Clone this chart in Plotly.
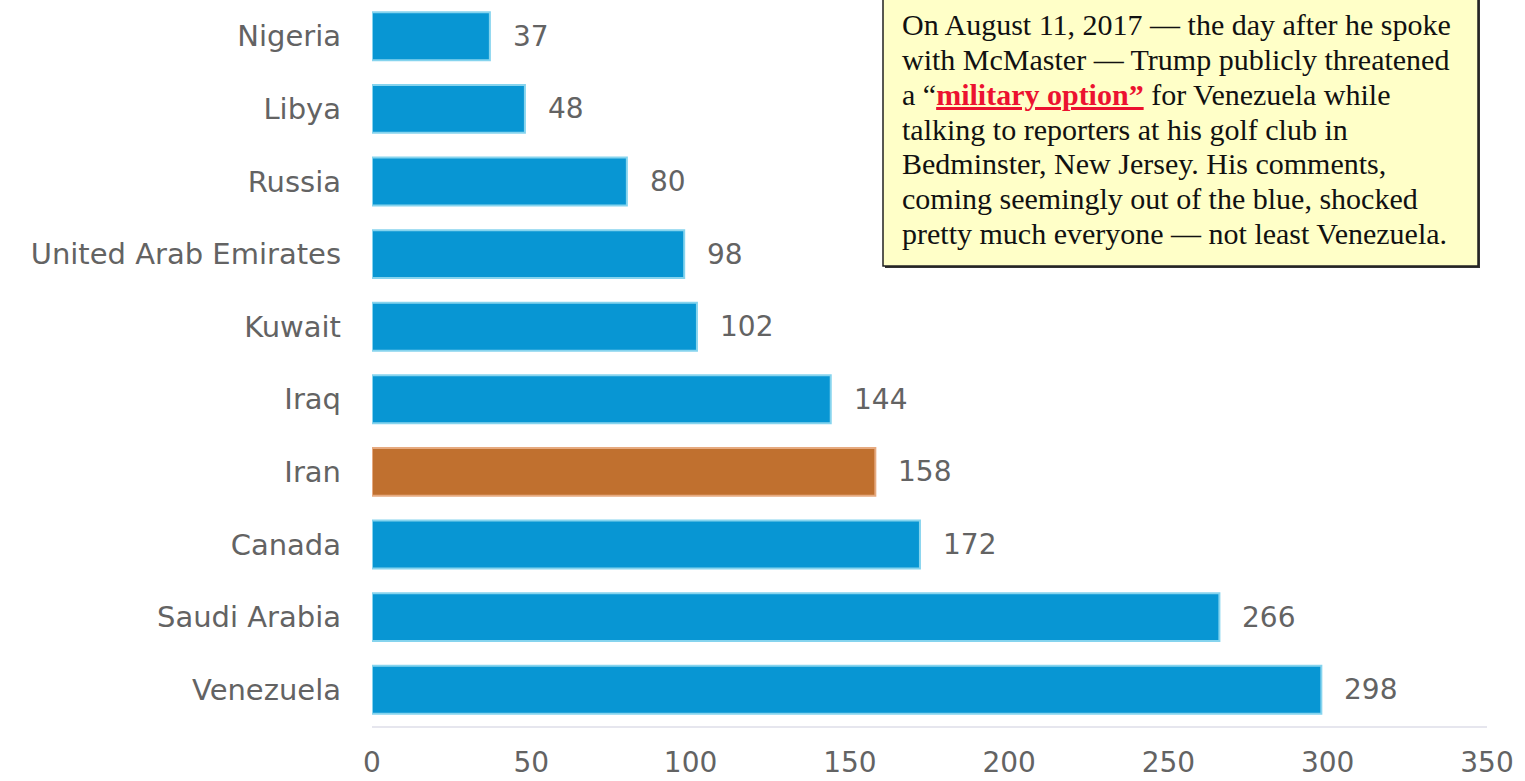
import plotly.graph_objects as go

# ---- data ----
countries = ["Nigeria", "Libya", "Russia", "United Arab Emirates", "Kuwait",
             "Iraq", "Iran", "Canada", "Saudi Arabia", "Venezuela"]
values = [37, 48, 80, 98, 102, 144, 158, 172, 266, 298]
highlight = "Iran"
x_ticks = [0, 50, 100, 150, 200, 250, 300, 350]

note_lines = [
    "On August 11, 2017 \u2014 the day after he spoke",
    "with McMaster \u2014 Trump publicly threatened",
    "a \u201c<span style=\"color:#ec1230;text-decoration:underline\"><b>military option\u201d</b></span> for Venezuela while",
    "talking to reporters at his golf club in",
    "Bedminster, New Jersey. His comments,",
    "coming seemingly out of the blue, shocked",
    "pretty much everyone \u2014 not least Venezuela.",
]

# ---- layout geometry (pixels) ----
W, H = 1525, 781
L, R, T, B = 372, 38, 0, 55
PW, PH = W - L - R, H - T - B


def px(xp):
    return (xp - L) / PW


def py(yp):
    return 1 - (yp - T) / PH


BLUE, BLUE_EDGE = "#0896d3", "#86d4ee"
ORANGE, ORANGE_EDGE = "#c0702f", "#e6aa80"
fills = [ORANGE if c == highlight else BLUE for c in countries]
edges = [ORANGE_EDGE if c == highlight else BLUE_EDGE for c in countries]

CAT_FONT = dict(family="DejaVu Sans", size=29, color="#636363")
NUM_FONT = dict(family="DejaVu Sans", size=28, color="#636363")

fig = go.Figure()
fig.add_trace(go.Bar(
    x=values, y=countries, orientation="h",
    marker=dict(color=fills, line=dict(color=edges, width=2)),
    hoverinfo="skip",
))

for c, v in zip(countries, values):
    fig.add_annotation(x=v, y=c, xref="x", yref="y", text=str(v),
                       showarrow=False, xanchor="left", xshift=21,
                       font=NUM_FONT)

# note box with drop shadow
bx0, bx1, by0, by1 = 883, 1478, -10, 266
fig.add_shape(type="rect", xref="paper", yref="paper",
              x0=px(bx0 + 2), x1=px(bx1 + 2), y0=py(by1 + 2), y1=py(by0 + 2),
              fillcolor="#333333", line=dict(width=0), layer="above")
fig.add_shape(type="rect", xref="paper", yref="paper",
              x0=px(bx0), x1=px(bx1), y0=py(by1), y1=py(by0),
              fillcolor="#ffffc8", line=dict(color="#222222", width=1.5),
              layer="above")
first_center, spacing = 25, 34.7
for i, txt in enumerate(note_lines):
    fig.add_annotation(x=px(900), y=py(first_center + i * spacing),
                       xref="paper", yref="paper",
                       text=txt, showarrow=False, xanchor="left",
                       yanchor="middle", align="left",
                       font=dict(family="Liberation Serif", size=30,
                                 color="#111111"))

fig.update_layout(
    width=W, height=H,
    margin=dict(l=L, r=R, t=T, b=B, autoexpand=False),
    paper_bgcolor="white", plot_bgcolor="white",
    bargap=0.34, showlegend=False,
    xaxis=dict(range=[0, 350], tickvals=x_ticks, showgrid=False,
               zeroline=False, showline=True, linecolor="#e6e6ee",
               linewidth=2, tickfont=NUM_FONT, ticks="",
               ticklabelstandoff=10, fixedrange=True),
    yaxis=dict(autorange="reversed", showgrid=False, zeroline=False,
               showline=False, ticks="", tickfont=CAT_FONT,
               ticklabelstandoff=30, fixedrange=True),
)

fig.write_html("out.html",
               config={"displayModeBar": False},
               post_script="document.body.style.margin='0';"
                           "document.body.style.overflow='hidden';")
